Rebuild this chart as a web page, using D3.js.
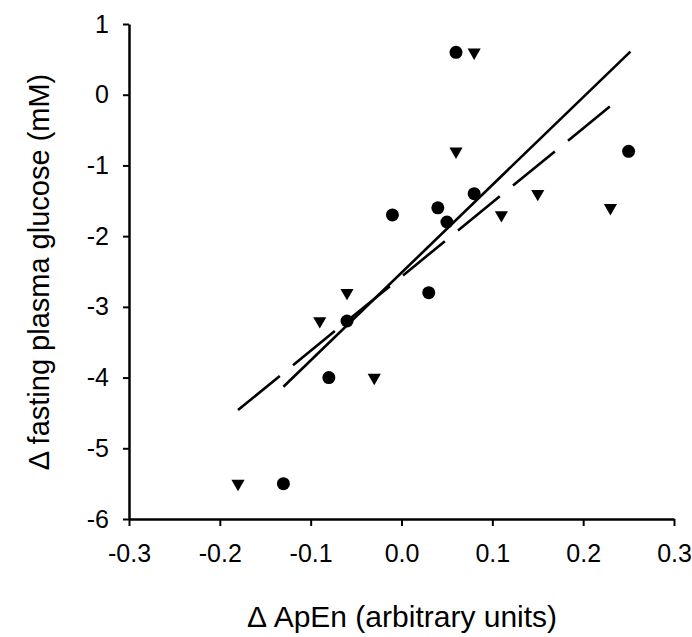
<!DOCTYPE html>
<html lang="en">
<head>
    <meta charset="UTF-8">
    <title>ApEn vs fasting plasma glucose</title>
    <script src="https://d3js.org/d3.v7.min.js"></script>
    <style>
        body { margin: 0; background: #fff; }
        text { font-family: "Liberation Sans", Arial, sans-serif; fill: #000; }
    </style>
</head>
<body>
<svg id="chart"></svg>
<script>
    // circles
    const circleX = [-0.13, -0.08, -0.06, -0.01, 0.03, 0.04, 0.05, 0.06, 0.08, 0.25];
    const circleY = [-5.5, -4.0, -3.2, -1.7, -2.8, -1.6, -1.8, 0.6, -1.4, -0.8];
    // triangles
    const triX = [-0.18, -0.09, -0.06, -0.03, 0.06, 0.08, 0.11, 0.15, 0.23];
    const triY = [-5.5, -3.2, -2.8, -4.0, -0.8, 0.6, -1.7, -1.4, -1.6];
    // regression lines (endpoints)
    const solidX = [-0.13, 0.252];
    const solidY = [-4.13, 0.61];
    const dashX = [-0.18, 0.232];
    const dashY = [-4.46, -0.14];

    const xTicks = [-0.3, -0.2, -0.1, 0.0, 0.1, 0.2, 0.3];
    const yTicks = [1, 0, -1, -2, -3, -4, -5, -6];

    const width = 692, height = 637;
    const svg = d3.select("#chart").attr("width", width).attr("height", height);

    const x = d3.scaleLinear().domain([-0.3, 0.3]).range([129, 674]);
    const y = d3.scaleLinear().domain([-6, 1]).range([519, 24]);

    // axes
    const xAxis = svg.append("g")
        .attr("transform", `translate(0,${y(-6)})`)
        .call(d3.axisBottom(x).tickValues(xTicks).tickFormat(d3.format(".1f")).tickSize(7).tickSizeOuter(0).tickPadding(18));
    const yAxis = svg.append("g")
        .attr("transform", `translate(${x(-0.3)},0)`)
        .call(d3.axisLeft(y).tickValues(yTicks).tickFormat(d => d).tickSize(6).tickSizeOuter(0).tickPadding(14));

    [xAxis, yAxis].forEach(a => {
        a.select(".domain").attr("stroke", "#000").attr("stroke-width", 2.5);
        a.selectAll(".tick line").attr("stroke", "#000").attr("stroke-width", 2);
        a.selectAll(".tick text").style("font-size", "25px").style("font-family", "'Liberation Sans', Arial, sans-serif");
    });
    // minus as hyphen like original
    svg.selectAll(".tick text").text(function () { return this.textContent.replace("−", "-"); });

    // lines
    const line = d3.line().x(d => x(d[0])).y(d => y(d[1]));
    svg.append("path")
        .attr("d", line(d3.zip(solidX, solidY)))
        .attr("fill", "none").attr("stroke", "#000").attr("stroke-width", 2.6);
    svg.append("path")
        .attr("d", line(d3.zip(dashX, dashY)))
        .attr("fill", "none").attr("stroke", "#000").attr("stroke-width", 2.6)
        .attr("stroke-dasharray", "54,17");

    // points
    svg.append("g").selectAll("circle")
        .data(d3.zip(circleX, circleY))
        .join("circle")
        .attr("cx", d => x(d[0]))
        .attr("cy", d => y(d[1]))
        .attr("r", 6.5)
        .attr("fill", "#000");

    const tri = d3.symbol().type(d3.symbolTriangle).size(75);
    svg.append("g").selectAll("path")
        .data(d3.zip(triX, triY))
        .join("path")
        .attr("d", tri)
        .attr("transform", d => `translate(${x(d[0])},${y(d[1])}) rotate(180)`)
        .attr("fill", "#000");

    // titles
    svg.append("text")
        .attr("x", 402).attr("y", 627)
        .attr("text-anchor", "middle")
        .style("font-size", "30px")
        .text("\u0394 ApEn (arbitrary units)");

    svg.append("text")
        .attr("transform", "translate(49,272) rotate(-90)")
        .attr("text-anchor", "middle")
        .style("font-size", "29px")
        .text("\u0394 fasting plasma glucose (mM)");
</script>
</body>
</html>
